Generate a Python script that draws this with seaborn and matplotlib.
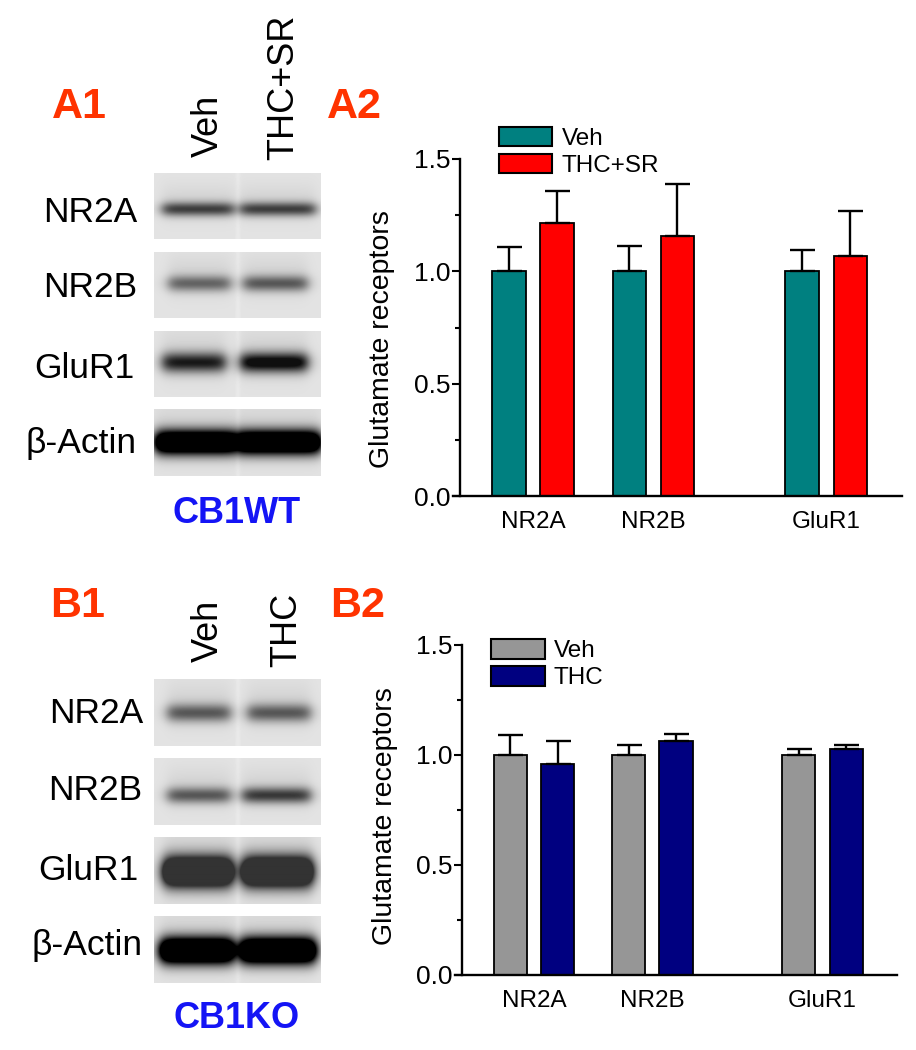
import numpy as np
import pandas as pd
import matplotlib
matplotlib.use("Agg")
import matplotlib.pyplot as plt
from matplotlib.patches import Patch
from matplotlib.ticker import MultipleLocator
import seaborn as sns

sns.set_style("ticks")
plt.rcParams["font.family"] = ["Liberation Sans", "DejaVu Sans"]
plt.rcParams.update({"text.color": "black", "axes.labelcolor": "black",
                     "xtick.color": "black", "ytick.color": "black",
                     "axes.edgecolor": "black"})

# --- data ---
receptors = ["NR2A", "NR2B", "GluR1"]

wt_groups = ["Veh", "THC+SR"]
wt_veh = [1.0, 1.0, 1.0]
wt_veh_err = [0.108, 0.113, 0.097]
wt_thc_sr = [1.215, 1.157, 1.069]
wt_thc_sr_err = [0.142, 0.232, 0.199]

ko_groups = ["Veh", "THC"]
ko_veh = [1.0, 1.0, 1.0]
ko_veh_err = [0.089, 0.047, 0.029]
ko_thc = [0.960, 1.064, 1.029]
ko_thc_err = [0.105, 0.033, 0.015]

# blot rows and (rough) band darkness per lane
blot_rows = ["NR2A", "NR2B", "GluR1", "β-Actin"]
wt_band_dark = [[0.6, 0.6], [0.45, 0.5], [0.75, 0.9], [1.6, 1.6]]
ko_band_dark = [[0.5, 0.5], [0.5, 0.62], [1.5, 1.5], [1.8, 1.8]]

# --- layout (pixels of a 916 x 1050 canvas) ---
W, H = 916, 1050
fig = plt.figure(figsize=(W / 100, H / 100), dpi=100)

GROUP_POS = {"NR2A": 0.0, "NR2B": 1.0, "GluR1": 2.44}
ORANGE = "#FF3300"
BLUE = "#1414F5"


def fx(x):
    return x / W


def fy(y):
    return 1 - y / H


def px_axes(left, top, right, bottom):
    return fig.add_axes([fx(left), fy(bottom), (right - left) / W, (bottom - top) / H])


def blot_strip(left, top, right, bottom, dark, lanes, yc, sigma, floor=0.0):
    ax = px_axes(left, top, right, bottom)
    h, w = int(bottom - top), int(right - left)
    yy = np.arange(h)[:, None]
    xx = np.arange(w)[None, :]
    bg = 0.89
    img = np.full((h, w), bg)
    # faint lighter seam between the lanes
    img += 0.025 * np.exp(-((xx - w / 2) / 2.5) ** 2)
    for (x0, x1), amp in zip(lanes, dark):
        horiz = 1 / (1 + np.exp(-(xx - x0) / 3.5)) / (1 + np.exp((xx - x1) / 3.5))
        vert = np.exp(-((yy - yc * h) / sigma) ** 2)
        haze = 0.06 * np.exp(-((yy - yc * h + sigma) / (2.5 * sigma)) ** 2)
        img = img - (amp * vert + haze) * horiz
    img = np.clip(img, floor, 1)
    ax.imshow(img, cmap="gray", vmin=0, vmax=1, aspect="auto", interpolation="bilinear")
    ax.set_axis_off()


def draw_blot(rows_px, dark_list, lanes_list, yc_list, sig_list, floor_list,
              baselines, label_right):
    for i, name in enumerate(blot_rows):
        t, b = rows_px[i]
        blot_strip(154, t, 321, b, dark_list[i], lanes_list[i], yc_list[i],
                   sig_list[i], floor_list[i])
        fig.text(fx(label_right[i]), fy(baselines[i]), name, ha="right",
                 va="baseline", fontsize=25.5)


# --- blots ---
wt_lanes = [[(8, 79), (86, 161)], [(14, 76), (89, 153)], [(8, 71), (86, 153)],
            [(1, 81), (83, 166)]]
draw_blot([(173, 239), (252, 318), (331, 397), (409, 476)], wt_band_dark,
          wt_lanes, [0.54, 0.47, 0.47, 0.49], [7, 8, 10, 12], [0.22, 0.25, 0.06, 0.0],
          [222, 297, 378, 453], [137, 137, 135, 137])

ko_lanes = [[(13, 76), (93, 156)], [(13, 76), (88, 156)], [(9, 78), (88, 158)],
            [(6, 79), (86, 161)]]
draw_blot([(679, 746), (758, 825), (837, 904), (916, 983)], ko_band_dark,
          ko_lanes, [0.5, 0.55, 0.52, 0.51], [9, 8, 15, 13], [0.27, 0.22, 0.2, 0.0],
          [723, 800, 880, 955], [143, 142, 139, 142])

# lane labels
lane_kw = dict(rotation=90, rotation_mode="anchor", ha="left", va="baseline",
               fontsize=26)
fig.text(fx(218), fy(157), "Veh", **lane_kw)
fig.text(fx(293), fy(160), "THC+SR", **lane_kw)
fig.text(fx(218), fy(662), "Veh", **lane_kw)
fig.text(fx(296), fy(667), "THC", **lane_kw)

# panel letters and genotype labels
letter_kw = dict(fontsize=31, fontweight="bold", color=ORANGE, va="baseline", ha="left")
fig.text(fx(52), fy(118), "A1", **letter_kw)
fig.text(fx(327), fy(118), "A2", **letter_kw)
fig.text(fx(50), fy(617), "B1", **letter_kw)
fig.text(fx(330), fy(617), "B2", **letter_kw)
fig.text(fx(237), fy(523), "CB1WT", fontsize=26, fontweight="bold", color=BLUE,
         ha="center", va="baseline")
fig.text(fx(237), fy(1028), "CB1KO", fontsize=26, fontweight="bold", color=BLUE,
         ha="center", va="baseline")


# --- bar charts ---
def bar_panel(ax, groups, veh, veh_err, trt, trt_err, colors, leg_anchor, label_y):
    df = pd.DataFrame({
        "receptor": receptors * 2,
        "group": [groups[0]] * 3 + [groups[1]] * 3,
        "value": veh + trt,
        "err": veh_err + trt_err,
    })
    df["pos"] = df["receptor"].map(GROUP_POS)
    sns.barplot(data=df, x="pos", y="value", hue="group", hue_order=groups,
                palette=dict(zip(groups, colors)), saturation=1, native_scale=True,
                width=0.8, gap=0.3, edgecolor="black", linewidth=1.3, errorbar=None,
                legend=False, ax=ax)
    for cont, g in zip(ax.containers, groups):
        sub = df[df["group"] == g]
        for bar in cont:
            xc = bar.get_x() + bar.get_width() / 2
            row = sub.iloc[(sub["pos"] - xc).abs().argmin()]
            ax.errorbar(xc, row["value"], yerr=[[0], [row["err"]]], color="black",
                        elinewidth=1.7, capsize=9, capthick=1.7, zorder=1)
    ax.set_xlim(-0.61, 3.07)
    ax.set_ylim(0, 1.5)
    ax.set_xticks([GROUP_POS[r] for r in receptors])
    ax.set_xticklabels(receptors)
    ax.set_yticks([0, 0.5, 1.0, 1.5])
    ax.set_yticklabels(["0.0", "0.5", "1.0", "1.5"])
    ax.yaxis.set_minor_locator(MultipleLocator(0.25))
    ax.tick_params(axis="y", which="major", length=6, width=1.5, labelsize=19, pad=1)
    ax.tick_params(axis="y", which="minor", length=3.6, width=1.5)
    ax.tick_params(axis="x", length=0, labelsize=17.5, pad=11)
    ax.set_xlabel("")
    ax.set_ylabel("Glutamate receptors", fontsize=20.5)
    ax.yaxis.set_label_coords(-0.147, label_y)
    sns.despine(ax=ax)
    for s in ("left", "bottom"):
        ax.spines[s].set_linewidth(1.7)
    ax.spines["bottom"].set_bounds(-0.668, 3.07)
    handles = [Patch(facecolor=c, edgecolor="black", linewidth=1.5, label=g)
               for g, c in zip(groups, colors)]
    ax.legend(handles=handles, loc="upper left", bbox_to_anchor=leg_anchor,
              frameon=False, fontsize=17.5, handlelength=2.2, handleheight=0.85,
              handletextpad=0.38, labelspacing=0.15, borderpad=0, borderaxespad=0)


ax_a = px_axes(460, 159, 902, 496)
bar_panel(ax_a, wt_groups, wt_veh, wt_veh_err, wt_thc_sr, wt_thc_sr_err,
          ["#008080", "#FF0000"], (0.088, 1.095), 0.466)

ax_b = px_axes(462, 645, 897, 975)
bar_panel(ax_b, ko_groups, ko_veh, ko_veh_err, ko_thc, ko_thc_err,
          ["#969696", "#000080"], (0.067, 1.017), 0.482)

fig.savefig("out.png", dpi=100)
